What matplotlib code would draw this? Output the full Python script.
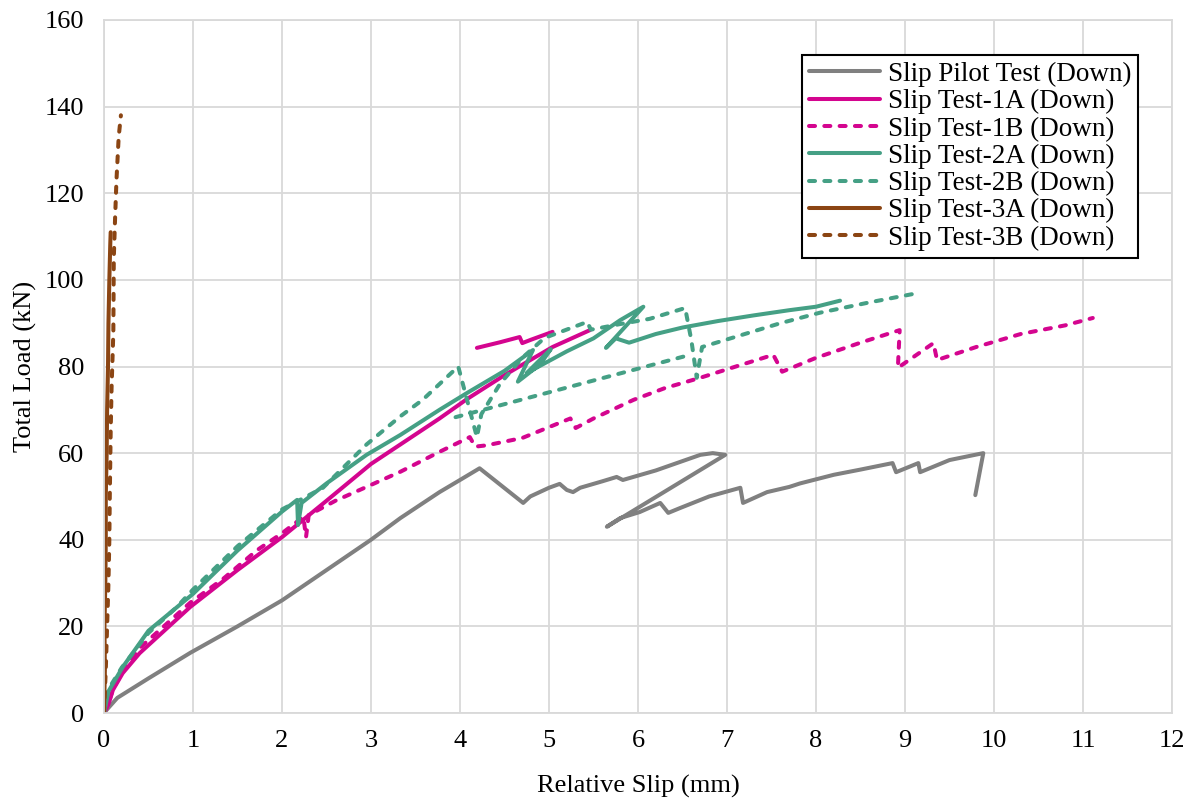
import numpy as np
import matplotlib
matplotlib.use('Agg')
from matplotlib import pyplot as plt

plt.rcParams['font.family'] = ['Liberation Serif', 'DejaVu Serif']

nan = np.nan

# Slip Pilot Test (Down)
pilot_x = [0, 0.05, 0.15, 0.5, 0.97, 1.5, 2.0, 2.5, 3.0, 3.33, 3.77, 4.0, 4.22, 4.71, 4.79, 5.0, 5.12,
           5.2, 5.27, 5.35, 5.6, 5.76, 5.83, 6.2, 6.7, 6.84, 6.98, 5.65, 5.8, 6.02, 6.25, 6.34, 6.47,
           6.8, 7.15, 7.18, 7.45, 7.7, 7.82, 8.2, 8.5, 8.86, 8.9, 9.15, 9.17, 9.5, 9.88, 9.79]
pilot_y = [0, 1.2, 3.5, 8, 13.9, 20, 26, 33, 40, 45, 51, 53.8, 56.5, 48.5, 50, 52, 52.9,
           51.5, 51, 52, 53.5, 54.5, 53.8, 56, 59.6, 60, 59.6, 43, 45, 46.4, 48.5, 46.2, 47.3,
           50, 52, 48.5, 51, 52.2, 53, 55, 56.2, 57.7, 55.6, 57.7, 55.6, 58.4, 60, 50.3]

# Slip Test-1A (Down)
t1a_x = [0, 0.05, 0.1, 0.21, 0.4, 0.97, 1.5, 2.0, 2.5, 3.0, 3.33, 3.77, 4.08, 4.5, 5.04, 5.46,
         nan, 4.19, 4.45, 4.67, 4.7, 4.8, 5.04]
t1a_y = [0, 2, 5.3, 9.2, 13.8, 24.5, 33, 40.6, 49, 57.5, 62, 68, 72.5, 78, 84.5, 88.4,
         nan, 84.3, 85.6, 86.8, 85.4, 86.2, 88]

# Slip Test-1B (Down)
t1b_x = [0, 0.05, 0.1, 0.21, 0.4, 0.97, 1.34, 1.72, 2.0, 2.24, 2.27, 2.3, 2.6, 2.95, 3.33, 3.77,
         4.11, 4.17, 4.3, 4.7, 5.24, 5.3, 5.5, 5.95, 6.3, 6.7, 7.1, 7.52, 7.62, 8.0, 8.5, 8.94,
         8.92, 9.32, 9.36, 9.8, 10.3, 10.8, 11.11]
t1b_y = [0, 2.2, 5.5, 9.5, 15, 25.5, 31, 37.6, 41.5, 45.3, 40.6, 45.7, 49, 52.2, 55.7, 60.3,
         63.7, 61.5, 61.8, 63.5, 68, 65.8, 68, 72.3, 75, 77.4, 80, 82.7, 78.8, 82, 85.5, 88.4,
         79.7, 85.4, 81.5, 84.5, 87.5, 89.5, 91.2]

# Slip Test-2A (Down)
t2a_x = [0, 0.05, 0.21, 0.5, 1.0, 1.5, 2.0, 2.17, 2.18, 2.22, 2.5, 2.95, 3.33, 3.77, 4.08, 4.5,
         4.82, 4.65, 4.9, 5.02, 4.75, 5.2, 5.5, 5.8, 6.06, 5.64, 5.75, 5.9, 6.2, 6.5, 6.9, 7.3,
         7.7, 8.0, 8.27]
t2a_y = [0, 5, 10.6, 19, 27.5, 37.5, 46.5, 49.2, 43.4, 48.5, 53, 59.6, 64.2, 70, 73.9, 79,
         83.8, 76.5, 80.5, 84, 78.5, 83.5, 86.5, 90.7, 93.8, 84.3, 86.5, 85.5, 87.5, 89, 90.5, 91.8,
         93, 93.8, 95.2]

# Slip Test-2B (Down)
t2b_x = [0, 0.05, 0.2, 0.5, 0.82, 1.0, 1.5, 2.0, 2.46, 2.95, 3.33, 3.58, 3.98, 4.19, 4.24, 4.45,
         4.7, 4.95, 5.43, 5.47, 5.8, 6.13, 6.53, 6.6, 6.66, 6.72, 7.2, 7.6, 8.04, 8.6, 9.13,
         nan, 3.95, 6.55]
t2b_y = [0, 5.5, 10.5, 18.5, 24.5, 28.5, 38.5, 47, 52, 62, 68.5, 72.3, 80, 63.7, 69, 76,
         82, 86.6, 90.3, 88.5, 89.8, 91, 93.5, 86, 77.4, 84.5, 87.5, 90, 92.4, 94.8, 96.9,
         nan, 68.3, 82.5]

# Slip Test-3A (Down)
t3a_x = [0, 0.01, 0.005, 0.015, 0.02, 0.02, 0.03, 0.035, 0.045, 0.05, 0.06, 0.07, 0.075]
t3a_y = [0, 10, 20, 30, 40, 50, 60, 70, 80, 90, 100, 108, 111]

# Slip Test-3B (Down)
t3b_x = [0, 0.02, 0.035, 0.05, 0.06, 0.065, 0.075, 0.085, 0.105, 0.11, 0.125, 0.14, 0.165, 0.19]
t3b_y = [0, 10, 20, 30, 40, 50, 65, 75, 88, 105, 114.5, 123, 133, 138]

gray    = '#808080'
magenta = '#D4058F'
teal    = '#45A085'
brown   = '#8B4513'

fig = plt.figure(figsize=(11.94, 8.01), dpi=100)
ax = fig.add_axes([104/1194, 1-713/801, (1172-104)/1194, (713-20)/801])

lw = 2.9
dash = (1.5, 2.3)
solid = dict(lw=lw, solid_capstyle='round', solid_joinstyle='round')
dashed = dict(lw=lw, dashes=dash, dash_capstyle='round', dash_joinstyle='round')
ax.plot(pilot_x, pilot_y, color=gray, label='Slip Pilot Test (Down)', **solid)
ax.plot(t1a_x, t1a_y, color=magenta, label='Slip Test-1A (Down)', **solid)
ax.plot(t1b_x, t1b_y, color=magenta, label='Slip Test-1B (Down)', **dashed)
ax.plot(t2a_x, t2a_y, color=teal, label='Slip Test-2A (Down)', **solid)
ax.plot(t2b_x, t2b_y, color=teal, label='Slip Test-2B (Down)', **dashed)
ax.plot(t3a_x, t3a_y, color=brown, label='Slip Test-3A (Down)', **solid)
ax.plot(t3b_x, t3b_y, color=brown, label='Slip Test-3B (Down)', **dashed)

ax.set_xlim(0, 12)
ax.set_ylim(0, 160)
ax.set_xticks(range(0, 13))
ax.set_yticks(range(0, 161, 20))
ax.grid(True, color='#D9D9D9', lw=1.3)
ax.set_axisbelow(True)
for s in ax.spines.values():
    s.set_color('#D9D9D9')
    s.set_linewidth(1.3)
ax.tick_params(length=0, labelsize=19, colors='black')
ax.tick_params(axis='y', pad=14)
ax.tick_params(axis='x', pad=12)

ax.set_xlabel('Relative Slip (mm)', fontsize=19, labelpad=17)
ax.set_ylabel('Total Load (kN)', fontsize=19, labelpad=6)

leg = ax.legend(loc='upper right', bbox_to_anchor=(1138/1194, 1-55/801), bbox_transform=fig.transFigure,
                fontsize=19.5, fancybox=False, edgecolor='k', framealpha=1, handlelength=2.6,
                labelspacing=0.08, borderpad=0.25, handletextpad=0.3, borderaxespad=0)
leg.get_frame().set_linewidth(1.5)

fig.savefig('out.png', dpi=100)
